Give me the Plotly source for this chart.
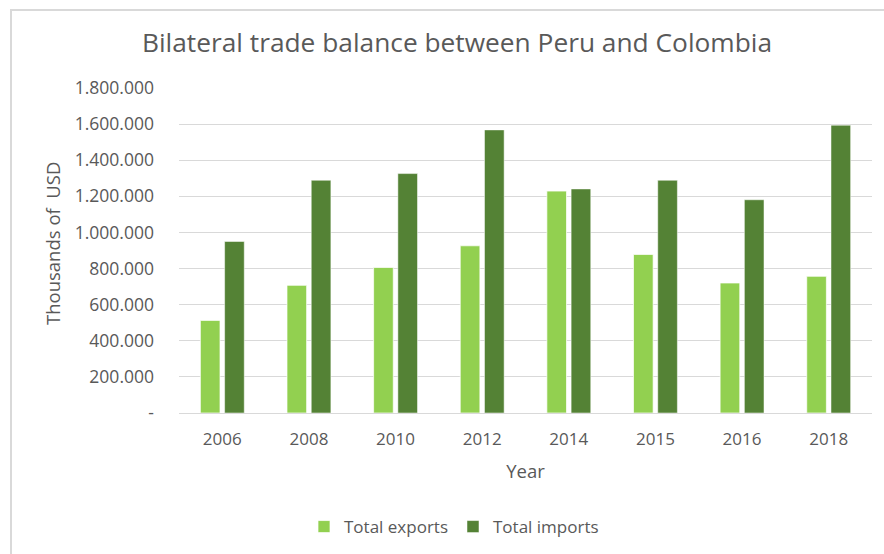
import plotly.graph_objects as go

# Bilateral trade Peru - Colombia, thousands of USD
years = ["2006", "2008", "2010", "2012", "2014", "2015", "2016", "2018"]
exports = [513000, 707000, 806000, 926000, 1229000, 878000, 720000, 757000]
imports = [950000, 1289000, 1326000, 1568000, 1241000, 1289000, 1181000, 1594000]

y_ticks = [0, 200000, 400000, 600000, 800000, 1000000, 1200000, 1400000, 1600000, 1800000]
y_tick_labels = ["-", "200.000", "400.000", "600.000", "800.000", "1.000.000",
                 "1.200.000", "1.400.000", "1.600.000", "1.800.000"]

W, H = 884, 554
ML, MR, MT, MB = 179, 12, 88, 141
GRAY = "#595959"
FONT = "Open Sans"

fig = go.Figure()
fig.add_trace(go.Bar(
    x=years, y=exports, name="Total exports",
    marker=dict(color="#92D050", line=dict(color="rgba(255,255,255,0.7)", width=1)),
))
fig.add_trace(go.Bar(
    x=years, y=imports, name="Total imports",
    marker=dict(color="#548235", line=dict(color="rgba(255,255,255,0.5)", width=1)),
))

pw = W - ML - MR
ph = H - MT - MB


def px_x(p):
    return (p - ML) / pw


def px_y(p):
    return (H - MB - p) / ph


fig.update_layout(
    width=W, height=H,
    margin=dict(l=ML, r=MR, t=MT, b=MB, pad=0),
    paper_bgcolor="white", plot_bgcolor="white",
    font=dict(family=FONT, color=GRAY),
    barmode="group", bargap=0.44, bargroupgap=0.19,
    title=dict(
        text="Bilateral trade balance between Peru and Colombia",
        font=dict(size=26.3, color=GRAY, family=FONT),
        xref="container", x=457 / W, xanchor="center",
        yref="container", y=1 - 43 / H, yanchor="middle",
    ),
    xaxis=dict(
        showgrid=False, showline=True, linecolor="#d9d9d9", linewidth=1,
        ticks="", tickfont=dict(size=17, color=GRAY), ticklabelstandoff=11,
        title=dict(text="Year", font=dict(size=18.5, color=GRAY), standoff=15),
    ),
    yaxis=dict(
        range=[0, 1800000], tickvals=y_ticks, ticktext=y_tick_labels,
        showgrid=True, gridcolor="#d9d9d9", gridwidth=1,
        zeroline=False, showline=False, ticks="",
        tickfont=dict(size=17.5, color=GRAY), ticklabelstandoff=24,
    ),
    legend=dict(
        orientation="h", xref="container", x=454 / W, xanchor="center",
        yref="container", y=1 - 527 / H, yanchor="middle",
        font=dict(size=17, color=GRAY), traceorder="normal",
    ),
    showlegend=True,
)

# Y-axis title placed beside the tick labels
fig.add_annotation(
    text="Thousands of\u00a0 USD", textangle=-90, showarrow=False,
    xref="paper", yref="paper", x=px_x(52), y=px_y(244),
    xanchor="center", yanchor="middle",
    font=dict(size=18.5, color=GRAY, family=FONT),
)

# Chart frame
fig.add_shape(
    type="rect", xref="paper", yref="paper",
    x0=px_x(11), x1=px_x(W + 20), y0=px_y(H + 20), y1=px_y(10),
    line=dict(color="#d9d9d9", width=2), fillcolor="rgba(0,0,0,0)", layer="below",
)

fig.write_html("out.html")
